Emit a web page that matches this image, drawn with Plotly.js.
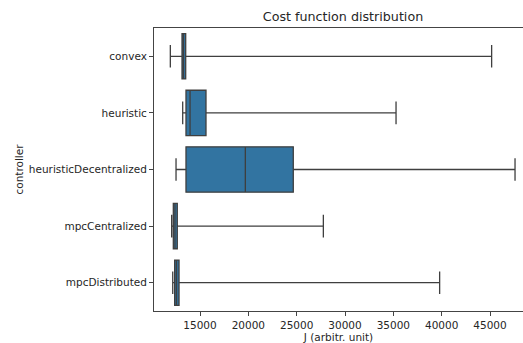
<!DOCTYPE html>
<html>
<head>
<meta charset="utf-8">
<script src="https://cdn.plot.ly/plotly-3.0.1.min.js"></script>
<style>html,body{margin:0;padding:0;background:#fff;}#chart{width:523px;height:343px;}</style>
</head>
<body>
<div id="chart"></div>
<script>
const controllers = ["convex", "heuristic", "heuristicDecentralized", "mpcCentralized", "mpcDistributed"];
const lowerFence = [11930, 13210, 12520, 12070, 12180];
const q1Values = [13140, 13550, 13550, 12240, 12380];
const medianValues = [13290, 13970, 19690, 12410, 12570];
const q3Values = [13520, 15620, 24650, 12650, 12830];
const upperFence = [45170, 35280, 47590, 27760, 39790];
const xTickValues = [15000, 20000, 25000, 30000, 35000, 40000, 45000];

const trace = {
  type: "box",
  orientation: "h",
  y: controllers,
  lowerfence: lowerFence,
  q1: q1Values,
  median: medianValues,
  q3: q3Values,
  upperfence: upperFence,
  boxpoints: false,
  width: 0.8,
  whiskerwidth: 0.5,
  fillcolor: "#3274a1",
  line: {color: "#3f3f3f", width: 1.3},
  hoverinfo: "skip"
};

const font = {family: "DejaVu Sans, sans-serif", size: 10.5, color: "#262626"};

const layout = {
  width: 523,
  height: 343,
  margin: {l: 154, r: 0, t: 28, b: 32, pad: 0},
  paper_bgcolor: "#fff",
  plot_bgcolor: "#fff",
  showlegend: false,
  font: font,
  title: {
    text: "Cost function distribution",
    font: {family: "DejaVu Sans, sans-serif", size: 12.7, color: "#262626"},
    x: 343 / 523,
    xref: "container",
    xanchor: "center",
    y: 1 - 17 / 343,
    yref: "container",
    yanchor: "middle",
    pad: {t: 0, b: 0, l: 0, r: 0}
  },
  xaxis: {
    range: [10241, 48414],
    tickvals: xTickValues,
    ticktext: xTickValues.map(String),
    ticks: "outside",
    ticklen: 4,
    tickwidth: 1,
    tickcolor: "#444",
    showgrid: false,
    zeroline: false,
    showline: true,
    linecolor: "#444",
    linewidth: 1,
    mirror: true,
    tickfont: font,
    title: {text: "J (arbitr. unit)", font: font, standoff: 2},
    automargin: false
  },
  yaxis: {
    type: "category",
    categoryorder: "array",
    categoryarray: controllers,
    range: [4.5, -0.5],
    ticks: "outside",
    ticklen: 4,
    tickwidth: 1,
    tickcolor: "#444",
    showgrid: false,
    zeroline: false,
    showline: true,
    linecolor: "#444",
    linewidth: 1,
    tickfont: font,
    title: {text: "controller", font: font, standoff: 3},
    automargin: false
  }
};

Plotly.newPlot("chart", [trace], layout, {displayModeBar: false, staticPlot: true});
</script>
</body>
</html>
